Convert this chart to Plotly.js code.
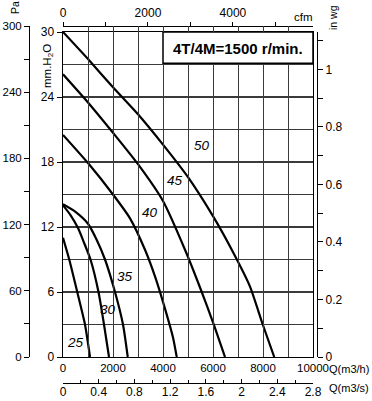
<!DOCTYPE html>
<html><head><meta charset="utf-8">
<script src="https://cdn.plot.ly/plotly-3.0.1.min.js"></script>
<style>html,body{margin:0;padding:0;background:#fff}#chart{width:372px;height:401px}</style>
</head><body><div id="chart"></div>
<script>
// fan curves: total pressure (mm H2O) vs flow Q (m3/h), per blade angle
const curveNames = ['25','30','35','40','45','50'];
const q25 = [0,250,570,880,1080];
const h25 = [11.0,9.0,6.0,3.0,0];
const q30 = [0,300,600,850,1100,1420,1640,1840];
const h30 = [14.0,13.1,11.9,10.5,9.0,6.0,3.0,0];
const q35 = [0,500,1000,1350,1680,2080,2400,2590];
const h35 = [14.1,13.4,12.3,10.8,9.0,6.0,3.0,0];
const q40 = [0,1000,2000,2680,3280,3700,4100,4400,4550];
const h40 = [20.5,17.9,15.0,12.8,9.9,7.3,4.3,1.8,0];
const q45 = [0,1000,2000,3000,4000,4880,5500,6000,6480];
const h45 = [26.1,23.5,20.7,17.8,14.4,9.9,6.3,3.2,0];
const q50 = [0,1000,2000,3000,4000,5000,6000,6750,7480,7990,8450];
const h50 = [30,27.5,24.9,22.4,19.6,16.6,13.0,9.9,6.5,3.0,0];
const titleText = '4T/4M=1500 r/min.';

const curvesQ = [q25,q30,q35,q40,q45,q50];
const curvesH = [h25,h30,h35,h40,h45,h50];
// label anchor points (layout placement of the curve names)
const labelAt = [[508,1.36],[1812,4.34],[2480,7.41],[3468,13.38],[4468,16.29],[5548,19.48]];

const F = 'Liberation Sans, Arial, sans-serif';
const traces = curvesQ.map((q,i)=>({
  x:q, y:curvesH[i], xaxis:'x', yaxis:'y', mode:'lines', type:'scatter',
  line:{color:'#000', width:2.2, shape:'spline', smoothing:0.6},
  hoverinfo:'skip', showlegend:false, name:curveNames[i]
}));
// invisible traces to register the extra axes
const ghost = (xa,ya)=>({x:[0],y:[0],xaxis:xa,yaxis:ya,mode:'markers',marker:{opacity:0},hoverinfo:'skip',showlegend:false});
traces.push(ghost('x','y2'), ghost('x','y3'), ghost('x2','y'), ghost('x3','y'));

const XD = [0.11806, 0.98611];
const YD = [0.07283, 0.98319];
const gridC = '#3a3a3a';
const tf = {family:F, size:12, color:'#000'};

const ann = (text, x, y, size, extra) => Object.assign({text, xref:'paper', yref:'paper', x, y, xanchor:'center', yanchor:'middle', showarrow:false, font:{family:F, size, color:'#000'}}, extra||{});

const layout = {
  width:372, height:401,
  margin:{l:29, r:55, t:26, b:18},
  paper_bgcolor:'#fff', plot_bgcolor:'rgba(0,0,0,0)',
  showlegend:false,
  font:{family:F, color:'#000'},
  xaxis:{domain:XD, range:[0,10000], anchor:'y', showline:true, mirror:true, linecolor:'#000', linewidth:1.5,
    dtick:2000, tick0:0, tickformat:'d', ticks:'', tickfont:{family:F,size:11.5,color:'#000'},
    showgrid:true, gridcolor:gridC, gridwidth:1, zeroline:false,
    minor:{dtick:1000, showgrid:true, gridcolor:gridC, gridwidth:1, ticks:''}},
  yaxis:{domain:YD, range:[0,30], anchor:'x', showline:true, mirror:true, linecolor:'#000', linewidth:1.5,
    dtick:6, tick0:0, ticks:'outside', ticklen:5, tickcolor:'#000', tickfont:tf,
    showgrid:true, gridcolor:gridC, gridwidth:1.1, zeroline:false,
    minor:{dtick:3, showgrid:true, gridcolor:gridC, gridwidth:1.1, ticks:''}},
  yaxis2:{domain:[0.07283,1], range:[0,300], anchor:'free', position:0, side:'left', showline:true, linecolor:'#000', linewidth:1.2,
    dtick:60, tick0:0, tickformat:'d', ticks:'outside', ticklen:5, tickcolor:'#000', tickfont:{family:F,size:11.5,color:'#000'},
    showgrid:false, zeroline:false, minor:{dtick:30, ticks:'outside', ticklen:5, tickcolor:'#000', showgrid:false}},
  yaxis3:{domain:YD, range:[0,1.13], overlaying:'y', anchor:'free', position:1, side:'right', showline:true, linecolor:'#000', linewidth:1.2,
    dtick:0.2, tick0:0, ticks:'outside', ticklen:5, tickcolor:'#000', tickfont:tf,
    showgrid:false, zeroline:false, minor:{dtick:0.1, ticks:'outside', ticklen:5, tickcolor:'#000', showgrid:false}},
  xaxis2:{range:[0,10000/1.699], overlaying:'x', anchor:'free', position:1, side:'top', showline:true, linecolor:'#000', linewidth:1.2,
    dtick:2000, tick0:0, tickformat:'d', ticks:'outside', ticklen:4, tickcolor:'#000', tickfont:tf,
    showgrid:false, zeroline:false, minor:{dtick:1000, ticks:'outside', ticklen:4, tickcolor:'#000', showgrid:false}},
  xaxis3:{range:[0,2.8], overlaying:'x', anchor:'free', position:0, side:'bottom', showline:true, linecolor:'#000', linewidth:1.2,
    dtick:0.4, tick0:0, ticks:'inside', ticklen:4, tickcolor:'#000', tickfont:tf, ticklabelstandoff:-3,
    showgrid:false, zeroline:false, minor:{dtick:0.2, ticks:'inside', ticklen:3, tickcolor:'#000', showgrid:false}},
  shapes:[
    {type:'rect', xref:'x', yref:'y', x0:4000, x1:10000, y0:27.12, y1:30, fillcolor:'#fff', line:{color:'#000', width:1.5}, layer:'above'}
  ],
  annotations:[
    {text:'<b>'+titleText+'</b>', xref:'x', yref:'y', x:7000, y:28.45, xanchor:'center', yanchor:'middle', showarrow:false, font:{family:F, size:15, color:'#000'}},
    ann('Pa', -0.0486, 1.0504, 10.5, {textangle:-90}),
    ann('mm.H<sub>2</sub>O', 0.066, 0.888, 11.5, {textangle:-90}),
    ann('in wg', 1.0556, 1.0224, 10.5, {textangle:-90}),
    ann('cfm', 0.9514, 1.0252, 11.5),
    ann('Q(m3/h)', 1.1875, 0.0392, 11, {xanchor:'right'}),
    ann('Q(m3/s)', 1.1875, -0.0154, 11, {xanchor:'right'})
  ].concat(curveNames.map((n,i)=>({text:'<i>'+n+'</i>', xref:'x', yref:'y', x:labelAt[i][0], y:labelAt[i][1], xanchor:'center', yanchor:'middle', showarrow:false, font:{family:F,size:13.5,color:'#000'}})))
};
Plotly.newPlot('chart', traces, layout, {staticPlot:true, displayModeBar:false});
</script></body></html>
